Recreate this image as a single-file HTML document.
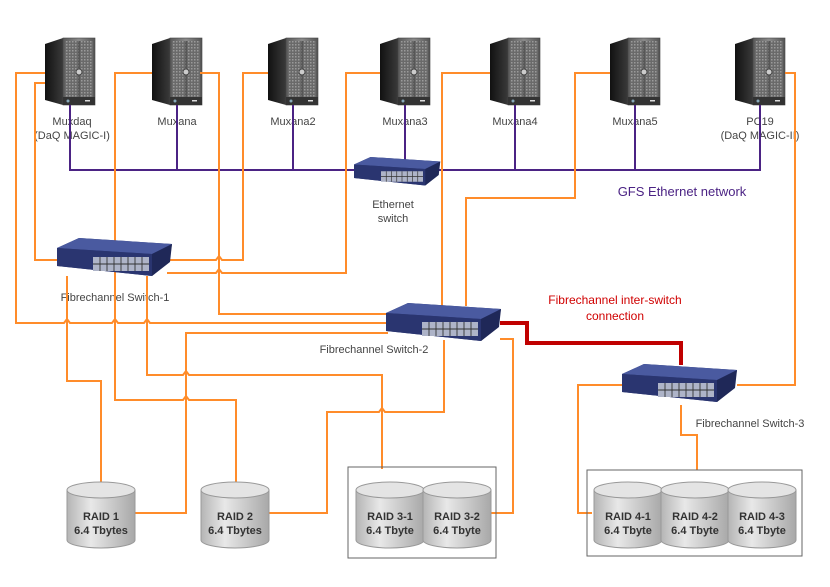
<!DOCTYPE html>
<html><head><meta charset="utf-8"><style>
html,body{margin:0;padding:0;background:#fff;}
svg{display:block;}
text{font-family:"Liberation Sans",sans-serif;}
</style></head><body>
<svg width="830" height="587" viewBox="0 0 830 587" xmlns="http://www.w3.org/2000/svg">
<defs>
<linearGradient id="front" x1="0" x2="1"><stop offset="0" stop-color="#5a5a5a"/><stop offset="0.5" stop-color="#8a8a8a"/><stop offset="1" stop-color="#555"/></linearGradient>
<linearGradient id="side" x1="0" x2="1"><stop offset="0" stop-color="#111"/><stop offset="1" stop-color="#3a3a3a"/></linearGradient>
<linearGradient id="cyl" x1="0" x2="1"><stop offset="0" stop-color="#b5b5b5"/><stop offset="0.35" stop-color="#e8e8e8"/><stop offset="1" stop-color="#a8a8a8"/></linearGradient>
<pattern id="mesh" width="3" height="3" patternUnits="userSpaceOnUse"><rect width="3" height="3" fill="#6a6a6a"/><rect width="1.5" height="1.5" fill="#9a9a9a"/></pattern>
<g id="srv">
<polygon points="0,6 18,0 18,67 0,62" fill="url(#side)"/>
<rect x="18" y="0" width="32" height="67" fill="url(#front)" stroke="#444" stroke-width="0.6"/>
<rect x="20" y="3" width="28" height="56" fill="url(#mesh)"/>
<line x1="34" y1="3" x2="34" y2="59" stroke="#444"/>
<circle cx="34" cy="34" r="3" fill="#ccc" stroke="#444"/>
<rect x="18" y="59" width="32" height="8" fill="#333"/>
<circle cx="23" cy="63" r="1.5" fill="#8ab"/>
<rect x="40" y="62" width="5" height="1.5" fill="#ddd"/>
</g>
<g id="sw">
<polygon points="0,10 22,0 115,6 112,24 95,38 0,28" fill="#2f3c78"/>
<polygon points="0,10 22,0 115,6 95,16" fill="#4a5aa0"/>
<polygon points="0,10 95,16 95,38 0,28" fill="#2a3570"/>
<polygon points="95,16 115,6 113,24 95,38" fill="#1f2858"/>
<rect x="36" y="19" width="56" height="14" fill="#aeb4c8"/>
<g stroke="#333" stroke-width="0.9"><line x1="36" y1="26" x2="92" y2="26"/><line x1="43" y1="19" x2="43" y2="33"/><line x1="50" y1="19" x2="50" y2="33"/><line x1="57" y1="19" x2="57" y2="33"/><line x1="64" y1="19" x2="64" y2="33"/><line x1="71" y1="19" x2="71" y2="33"/><line x1="78" y1="19" x2="78" y2="33"/><line x1="85" y1="19" x2="85" y2="33"/></g>
</g>
<g id="cy">
<path d="M0,8 L0,58 A34,8 0 0 0 68,58 L68,8" fill="url(#cyl)" stroke="#999"/>
<ellipse cx="34" cy="8" rx="34" ry="8" fill="#e4e4e4" stroke="#999"/>
</g>
</defs>

<use href="#srv" x="45" y="38"/>
<use href="#srv" x="152" y="38"/>
<use href="#srv" x="268" y="38"/>
<use href="#srv" x="380" y="38"/>
<use href="#srv" x="490" y="38"/>
<use href="#srv" x="610" y="38"/>
<use href="#srv" x="735" y="38"/>

<g font-size="11" fill="#444" text-anchor="middle">
<text x="72" y="125">Muxdaq</text><text x="72" y="139">(DaQ MAGIC-I)</text>
<text x="177" y="125">Muxana</text>
<text x="293" y="125">Muxana2</text>
<text x="405" y="125">Muxana3</text>
<text x="515" y="125">Muxana4</text>
<text x="635" y="125">Muxana5</text>
<text x="760" y="125">PC19</text><text x="760" y="139">(DaQ MAGIC-II)</text>
<text x="393" y="208">Ethernet</text><text x="393" y="222">switch</text>
<text x="115" y="301">Fibrechannel Switch-1</text>
<text x="374" y="353">Fibrechannel Switch-2</text>
<text x="750" y="427">Fibrechannel Switch-3</text>
</g>
<text x="682" y="196" font-size="13" fill="#4b2384" text-anchor="middle">GFS Ethernet network</text>
<g font-size="12" fill="#d00000" text-anchor="middle"><text x="615" y="304">Fibrechannel inter-switch</text><text x="615" y="320">connection</text></g>

<g stroke="#4b2384" stroke-width="2" fill="none">
<polyline points="70,105 70,170 760,170 760,105"/>
<line x1="177" y1="105" x2="177" y2="170"/>
<line x1="293" y1="105" x2="293" y2="170"/>
<line x1="405" y1="105" x2="405" y2="170"/>
<line x1="515" y1="105" x2="515" y2="170"/>
<line x1="635" y1="105" x2="635" y2="170"/>
</g>

<g stroke="#ff8c2a" stroke-width="2" fill="none">
<polyline points="45,73 16,73 16,323 64,323 67,319 70,323 112,323 115,319 118,323 144,323 147,319 150,323 388,323"/>
<polyline points="45,83 35,83 35,260 60,260"/>
<polyline points="152,73 115,73 115,400 183,400 186,396 189,400 236,400 236,484"/>
<polyline points="200,73 219,73 219,314 388,314"/>
<polyline points="268,73 243,73 243,260 222,260 219,256 216,260 170,260"/>
<polyline points="380,73 346,73 346,273 222,273 219,269 216,273 167,273"/>
<polyline points="490,73 442,73 442,306"/>
<polyline points="610,73 575,73 575,198 466,198 466,306"/>
<polyline points="785,73 795,73 795,385 737,385"/>
<polyline points="67,276 67,381 101,381 101,484"/>
<polyline points="147,276 147,375 183,375 186,371 189,375 382,375 382,469"/>
<polyline points="388,333 186,333 186,513 135,513"/>
<polyline points="444,340 444,412 385,412 382,408 379,412 327,412 327,513 269,513"/>
<polyline points="500,339 513,339 513,513 490,513"/>
<polyline points="622,385 578,385 578,513 592,513"/>
<polyline points="681,405 681,435 697,435 697,470"/>
</g>
<polyline points="500,323 527,323 527,343 681,343 681,365" fill="none" stroke="#c00000" stroke-width="4"/>

<use href="#sw" transform="translate(354,157) scale(0.75)"/>
<use href="#sw" x="57" y="238"/>
<use href="#sw" x="386" y="303"/>
<use href="#sw" x="622" y="364"/>

<rect x="348" y="467" width="148" height="91" fill="none" stroke="#666"/>
<rect x="587" y="470" width="215" height="86" fill="none" stroke="#666"/>
<use href="#cy" x="67" y="482"/>
<use href="#cy" x="201" y="482"/>
<use href="#cy" x="356" y="482"/>
<use href="#cy" x="423" y="482"/>
<use href="#cy" x="594" y="482"/>
<use href="#cy" x="661" y="482"/>
<use href="#cy" x="728" y="482"/>
<g font-size="11" font-weight="bold" fill="#333" text-anchor="middle">
<text x="101" y="520">RAID 1</text><text x="101" y="534">6.4 Tbytes</text>
<text x="235" y="520">RAID 2</text><text x="235" y="534">6.4 Tbytes</text>
<text x="390" y="520">RAID 3-1</text><text x="390" y="534">6.4 Tbyte</text>
<text x="457" y="520">RAID 3-2</text><text x="457" y="534">6.4 Tbyte</text>
<text x="628" y="520">RAID 4-1</text><text x="628" y="534">6.4 Tbyte</text>
<text x="695" y="520">RAID 4-2</text><text x="695" y="534">6.4 Tbyte</text>
<text x="762" y="520">RAID 4-3</text><text x="762" y="534">6.4 Tbyte</text>
</g>
</svg>
</body></html>
